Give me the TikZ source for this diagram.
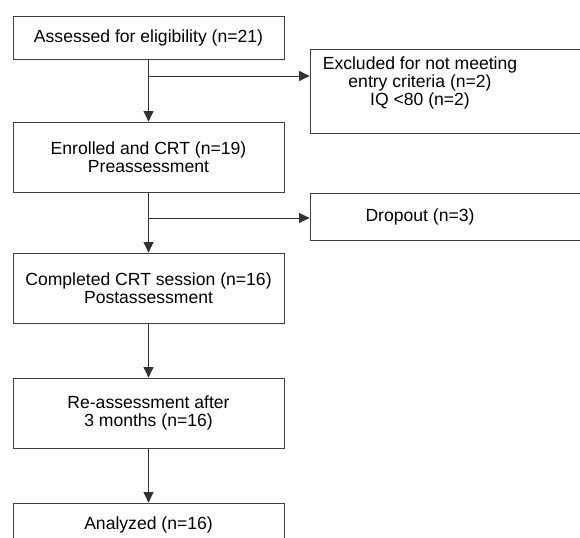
\documentclass[tikz,border=0pt]{standalone}
\usepackage{fontspec}
\setmainfont{Liberation Sans}
\usetikzlibrary{arrows.meta,positioning}
\tikzset{
  box/.style={draw=black!75,line width=0.6pt,rectangle,align=center,
    minimum width=8.13cm,inner sep=0pt,font=\fontsize{15}{15.4}\selectfont},
  sidebox/.style={box,minimum width=8.4cm},
  flow/.style={draw=black!80,line width=0.6pt,-{Triangle[length=9pt,width=8.5pt]}}
}
\begin{document}
\begin{tikzpicture}[x=0.03cm,y=-0.03cm]
        \useasboundingbox (0,0) rectangle (580,538);

        % main column
        \node[box,minimum height=1.29cm] (assess) at (148.5,37.5) {Assessed for eligibility (n=21)};
        \node[box,minimum height=2.1cm] (enrol) at (148.5,157) {Enrolled and CRT (n=19)\\Preassessment};
        \node[box,minimum height=2.1cm] (compl) at (148.5,288) {Completed CRT session (n=16)\\Postassessment};
        \node[box,minimum height=2.1cm] (reass) at (148.5,413) {Re-assessment after\\3 months (n=16)};
        \node[box,minimum height=1.29cm] (anal) at (148.5,524.5) {Analyzed (n=16)};

        % side boxes
        \node[sidebox,minimum height=2.52cm] (excl) at (450,91)
          {\raisebox{0.08cm}[0pt][0pt]{\begin{tabular}{@{}c@{}}Excluded for not meeting\\entry criteria (n=2)\\IQ <80 (n=2)\end{tabular}}\hspace{1.8cm}};
        \node[sidebox,minimum height=1.41cm] (drop) at (450,216.5)
          {Dropout (n=3)\hspace{1.8cm}};

        % branch points
        \coordinate (b1) at (148.5,76);
        \coordinate (b2) at (148.5,218);

        \draw[flow] (assess) -- (enrol);
        \draw[flow] (enrol) -- (compl);
        \draw[flow] (compl) -- (reass);
        \draw[flow] (reass) -- (anal);
        \draw[flow] (b1) -- (b1 -| excl.west); % excluded
        \draw[flow] (b2) -- (b2 -| drop.west); % dropout
    \end{tikzpicture}
\end{document}
